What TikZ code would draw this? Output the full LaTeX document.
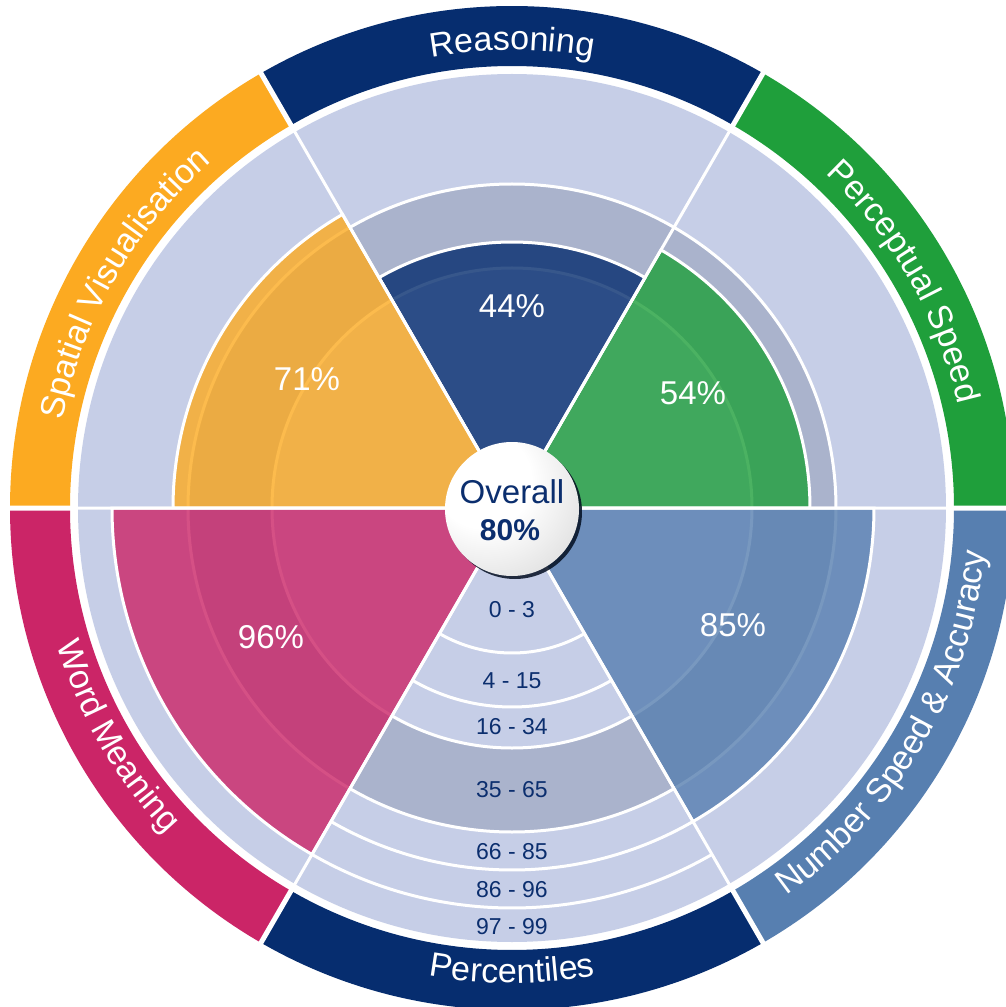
\documentclass[tikz,border=0pt]{standalone}
\usepackage{fontspec}
\setmainfont{Liberation Sans}
\usepackage{xcolor}
\usepackage{tikz}
\usetikzlibrary{positioning}
\usetikzlibrary{decorations.text}

\definecolor{navyband}{HTML}{062D6F}
\definecolor{orangeband}{HTML}{FCAA21}
\definecolor{greenband}{HTML}{1F9F3B}
\definecolor{pinkband}{HTML}{CB2567}
\definecolor{blueband}{HTML}{577FB0}
\definecolor{lightfill}{HTML}{C6CEE7}
\definecolor{greyfill}{HTML}{AAB3CC}
\definecolor{navytext}{HTML}{0B2E6E}

\newcommand{\bandfont}{\fontsize{34}{40}\selectfont}

\pgfdeclareradialshading{overallball}{\pgfpoint{-14bp}{14bp}}{%
  color(0bp)=(white); color(18bp)=(white); color(55bp)=(black!22); color(80bp)=(black!30)}

\begin{document}
\begin{tikzpicture}[x=1pt,y=1pt,
	bandline/.style={draw=white,line width=3pt},
	divider/.style={draw=white,line width=3pt},
	ringgap/.style={draw=white,line width=5pt},
	wedge/.style={fill opacity=0.8,draw=white,line width=3pt},
	scorelabel/.style={text=white,font=\fontsize{33}{38}\selectfont},
	bandrange/.style={text=navytext,font=\fontsize{23}{27}\selectfont},
	ringlabel/.style={decorate,decoration={text along path,text align=center,
		text={|\bandfont\color{white}|#1}}}]

			\useasboundingbox (-512,-499) rectangle (494,508);
			\fill[white] (-512,-499) rectangle (494,508);
			\coordinate (o) at (0,0);

			% outer ring
			\fill[greenband] (0:442) arc[start angle=0,end angle=60,radius=442] -- (60:502) arc[start angle=60,end angle=0,radius=502] -- cycle;
			\fill[navyband] (60:442) arc[start angle=60,end angle=120,radius=442] -- (120:502) arc[start angle=120,end angle=60,radius=502] -- cycle;
			\fill[orangeband] (120:442) arc[start angle=120,end angle=180,radius=442] -- (180:502) arc[start angle=180,end angle=120,radius=502] -- cycle;
			\fill[pinkband] (180:442) arc[start angle=180,end angle=240,radius=442] -- (240:502) arc[start angle=240,end angle=180,radius=502] -- cycle;
			\fill[navyband] (240:442) arc[start angle=240,end angle=300,radius=442] -- (300:502) arc[start angle=300,end angle=240,radius=502] -- cycle;
			\fill[blueband] (300:442) arc[start angle=300,end angle=360,radius=442] -- (360:502) arc[start angle=360,end angle=300,radius=502] -- cycle;

			% disc and middle band
			\fill[lightfill] (o) circle[radius=434];
			\fill[greyfill,even odd rule] (o) circle[radius=324] circle[radius=240];
			\draw[bandline] (o) circle[radius=240] (o) circle[radius=324];

			% percentile bands
			\draw[bandline] (240:145) arc[start angle=240,end angle=300,radius=145];
			\draw[bandline] (240:199) arc[start angle=240,end angle=300,radius=199];
			\draw[bandline] (240:362) arc[start angle=240,end angle=300,radius=362];
			\draw[bandline] (240:400) arc[start angle=240,end angle=300,radius=400];

			% scores
			\filldraw[wedge,fill=greenband] (o) -- (0:298) arc[start angle=0,end angle=60,radius=298] -- cycle;
			\filldraw[wedge,fill=navyband] (o) -- (60:266) arc[start angle=60,end angle=120,radius=266] -- cycle;
			\filldraw[wedge,fill=orangeband] (o) -- (120:339) arc[start angle=120,end angle=180,radius=339] -- cycle;
			\filldraw[wedge,fill=pinkband] (o) -- (180:400) arc[start angle=180,end angle=240,radius=400] -- cycle;
			\filldraw[wedge,fill=blueband] (o) -- (300:362) arc[start angle=300,end angle=360,radius=362] -- cycle;

			\draw[divider] (o) -- (0:436) (o) -- (60:436) (o) -- (120:436)
				(o) -- (180:436) (o) -- (240:436) (o) -- (300:436);
			\draw[ringgap] (0:438) -- (0:510) (60:438) -- (60:510) (120:438) -- (120:510)
				(180:438) -- (180:510) (240:438) -- (240:510) (300:438) -- (300:510);

			% ring labels
			\path[ringlabel={Perceptual Speed}] (60:458) arc[start angle=60,end angle=0,radius=458];
			\path[ringlabel={Reasoning}] (120:458) arc[start angle=120,end angle=60,radius=458];
			\path[ringlabel={Spatial Visualisation}] (180:458) arc[start angle=180,end angle=120,radius=458];
			\path[ringlabel={Word Meaning}] (180:475) arc[start angle=180,end angle=240,radius=475];
			\path[ringlabel={Percentiles}] (240:475) arc[start angle=240,end angle=300,radius=475];
			\path[ringlabel={Number Speed {\&} Accuracy}] (300:475) arc[start angle=300,end angle=360,radius=475];

			\node[scorelabel] (reasoning) at (0,202) {44\%};
			\node[scorelabel] (perceptual) at (181,115) {54\%};
			\node[scorelabel] (spatial) at (-205,129) {71\%};
			\node[scorelabel] (number) at (221,-117) {85\%};
			\node[scorelabel] (word) at (-241,-129) {96\%};

			\node[bandrange] (p0) at (0,-102) {0 - 3};
			\node[bandrange] (p4) at (0,-173) {4 - 15};
			\node[bandrange] (p16) at (0,-219) {16 - 34};
			\node[bandrange] (p35) at (0,-282) {35 - 65};
			\node[bandrange] (p66) at (0,-344) {66 - 85};
			\node[bandrange] (p86) at (0,-382) {86 - 96};
			\node[bandrange] (p97) at (0,-419) {97 - 99};

			% overall
			\fill[black!70!navytext,opacity=0.85] (3,-4) circle[radius=67];
			\shade[shading=overallball] (0,-1) circle[radius=67];
			\node[text=navytext,font=\fontsize{33}{38}\selectfont,anchor=base,inner sep=0pt] (overall) at (0,5) {Overall};
			\node[text=navytext,font=\fontsize{30}{34}\selectfont\bfseries,anchor=base,inner sep=0pt] (overallscore) at (-2,-32) {80\%};

		\end{tikzpicture}
\end{document}
